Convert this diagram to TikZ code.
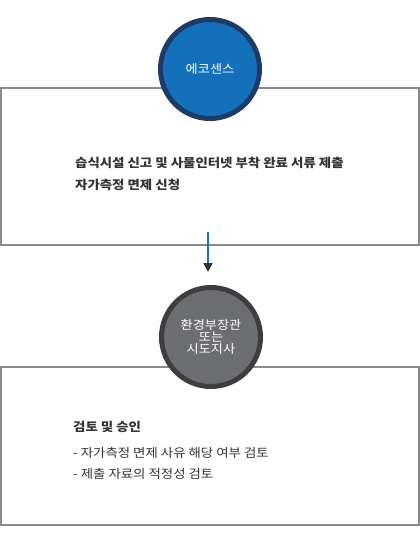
\documentclass[tikz,border=0pt]{standalone}
\usepackage{fontspec}
\setmainfont{Noto Sans CJK KR}[FakeStretch=1.1]
\usetikzlibrary{arrows.meta}
\definecolor{boxgray}{HTML}{8A8A8A}
\definecolor{ecoblue}{HTML}{1470BA}
\definecolor{econavy}{HTML}{1D3B66}
\definecolor{govgray}{HTML}{6D6E71}
\definecolor{govdark}{HTML}{3E3E40}
\definecolor{txt}{HTML}{333333}
\definecolor{arrblue}{HTML}{1F6FB5}
\tikzset{
  panel/.style={draw=boxgray, line width=2pt, fill=white},
  badge/.style={circle, line width=5pt, minimum size=99pt, inner sep=0pt, text=white, align=center, font=\fontsize{12pt}{12.3pt}\selectfont},
  bodytext/.style={anchor=west, inner sep=0pt, text=txt, font=\fontsize{12.2pt}{14pt}\selectfont},
  boldtext/.style={bodytext, font=\fontsize{12.2pt}{14pt}\selectfont\bfseries},
}
\begin{document}
\begin{tikzpicture}[x=1pt, y=-1pt]
\useasboundingbox (0,0) rectangle (420,550);
% panels
\draw[panel] (1,88) rectangle (419,245);
\draw[panel] (1,367) rectangle (419,525);
% circles
\node[badge, draw=econavy, fill=ecoblue] (c1) at (210,69) {에코센스};
\node[badge, draw=govdark, fill=govgray] (c2) at (211,337) {환경부장관\\또는\\시도지사};
% arrow
\coordinate (a1) at (208,232);
\coordinate (a2) at (208,272);
\draw[arrblue, line width=1.6pt, -{Triangle[color=txt, length=9pt, width=9pt]}] (a1) -- (a2);
% texts
\node[boldtext] (t1) at (75,163) {습식시설 신고 및 사물인터넷 부착 완료 서류 제출};
\node[boldtext] (t2) at (75,185) {자가측정 면제 신청};
\node[boldtext] (t3) at (73,427) {검토 및 승인};
\node[bodytext] (t4) at (73,453) {- 자가측정 면제 사유 해당 여부 검토};
\node[bodytext] (t5) at (73,474) {- 제출 자료의 적정성 검토};
\end{tikzpicture}
\end{document}
